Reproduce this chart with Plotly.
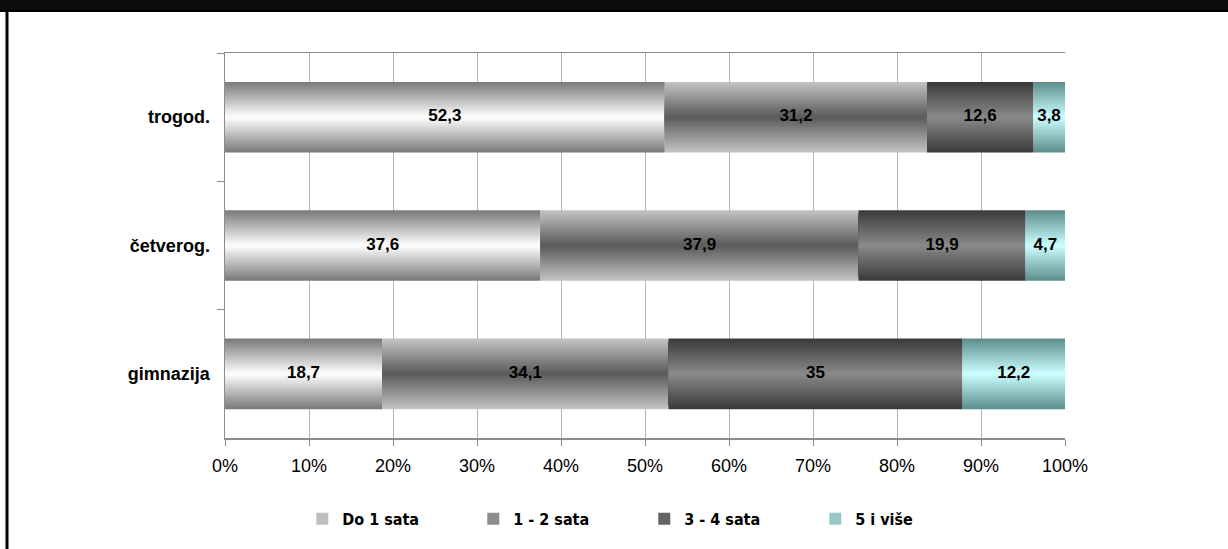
import plotly.graph_objects as go

# Survey data: time spent per day, by school type (percent of pupils)
categories = ["trogod.", "četverog.", "gimnazija"]
series_names = ["Do 1 sata", "1 - 2 sata", "3 - 4 sata", "5 i više"]
do_1_sata = [52.3, 37.6, 18.7]
sata_1_2 = [31.2, 37.9, 34.1]
sata_3_4 = [12.6, 19.9, 35.0]
pet_i_vise = [3.8, 4.7, 12.2]
x_tick_values = [0, 10, 20, 30, 40, 50, 60, 70, 80, 90, 100]
x_tick_labels = ["0%", "10%", "20%", "30%", "40%", "50%", "60%", "70%", "80%", "90%", "100%"]

series_values = [do_1_sata, sata_1_2, sata_3_4, pet_i_vise]

# Gradient colours (edge of bar -> centre of bar) for each series
gradient = [
    ((0x78, 0x78, 0x78), (0xFF, 0xFF, 0xFF)),
    ((0xC4, 0xC4, 0xC4), (0x5A, 0x5A, 0x5A)),
    ((0x3A, 0x3A, 0x3A), (0x8A, 0x8A, 0x8A)),
    ((0x5C, 0x8C, 0x8C), (0xCC, 0xFF, 0xFF)),
]

BAR_W = 0.55
N_LAYERS = 18

LABEL_FONT = "Liberation Sans, Arial, sans-serif"


def lerp(c0, c1, t):
    return "rgb({},{},{})".format(*[round(a + (b - a) * t) for a, b in zip(c0, c1)])


# 100 % stacked: normalise each category to its total
totals = [sum(vals[i] for vals in series_values) for i in range(len(categories))]
shares = [[v / totals[i] * 100 for i, v in enumerate(vals)] for vals in series_values]
bases = []
running = [0.0] * len(categories)
for sh in shares:
    bases.append(list(running))
    running = [r + s for r, s in zip(running, sh)]

fig = go.Figure()

for s_idx, name in enumerate(series_names):
    edge, centre = gradient[s_idx]
    for k in range(N_LAYERS):
        frac = 1 - k / N_LAYERS
        d = 1 - (k + 0.5) / N_LAYERS
        col = lerp(centre, edge, d)
        fig.add_trace(go.Bar(
            y=categories,
            x=shares[s_idx],
            base=bases[s_idx],
            orientation="h",
            width=BAR_W * frac,
            marker=dict(color=col, line=dict(width=0)),
            name=name,
            legendgroup=name,
            showlegend=(k == N_LAYERS // 2),
            hoverinfo="skip",
        ))

# Value labels centred in each segment
for s_idx, vals in enumerate(series_values):
    fig.add_trace(go.Scatter(
        y=categories,
        x=[b + s / 2 for b, s in zip(bases[s_idx], shares[s_idx])],
        mode="text",
        text=[f"{v:g}".replace(".", ",") for v in vals],
        textfont=dict(family=LABEL_FONT, size=17, color="black", weight="bold"),
        showlegend=False,
        hoverinfo="skip",
    ))

shapes = [
    # dark header strip
    dict(type="rect", xref="paper", yref="paper",
         x0=-0.3, x1=1.3,
         y0=(438 - 12) / 385, y1=(438 + 4) / 385,
         fillcolor="#000000", line=dict(width=0), layer="above"),
    dict(type="rect", xref="paper", yref="paper",
         x0=-0.3, x1=1.3,
         y0=(438 - 10) / 385, y1=(438 + 4) / 385,
         fillcolor="#0d0d0d", line=dict(width=0), layer="above"),
    # left frame bar
    dict(type="rect", xref="paper", yref="paper",
         x0=(5.5 - 225) / 840, x1=(8.5 - 225) / 840,
         y0=-0.4, y1=(438 - 10) / 385,
         fillcolor="black", line=dict(width=0), layer="above"),
]

fig.update_layout(
    width=1228, height=549,
    margin=dict(l=225, r=163, t=53, b=111, autoexpand=False),
    paper_bgcolor="white",
    plot_bgcolor="white",
    barmode="overlay",
    showlegend=True,
    legend=dict(
        orientation="h",
        x=0.092, xanchor="left",
        y=-0.21, yanchor="middle",
        font=dict(family="DejaVu Sans Condensed, DejaVu Sans, sans-serif", size=16,
                  color="black", weight="bold"),
        entrywidth=126, entrywidthmode="pixels",
        itemwidth=30,
        traceorder="normal",
    ),
    xaxis=dict(
        range=[0, 100],
        tickvals=x_tick_values,
        ticktext=x_tick_labels,
        showgrid=True, gridcolor="#b4b4b4", gridwidth=1,
        zeroline=False,
        showline=True, linecolor="#8c8c8c", linewidth=1.5,
        mirror=True,
        ticks="outside", ticklen=6, tickcolor="#8c8c8c",
        ticklabelstandoff=5,
        tickfont=dict(family="Liberation Sans, Arial, sans-serif", size=18, color="black"),
        fixedrange=True,
    ),
    yaxis=dict(
        categoryorder="array",
        categoryarray=categories,
        autorange="reversed",
        showgrid=False,
        showline=True, linecolor="#8c8c8c", linewidth=1.5,
        ticks="outside", ticklen=7, tickcolor="#8c8c8c",
        tickson="boundaries",
        ticklabelstandoff=10,
        tickfont=dict(family=LABEL_FONT, size=18, color="black", weight="bold"),
        fixedrange=True,
    ),
    shapes=shapes,
)

fig.write_html("out.html", config={"displayModeBar": False, "staticPlot": True})
